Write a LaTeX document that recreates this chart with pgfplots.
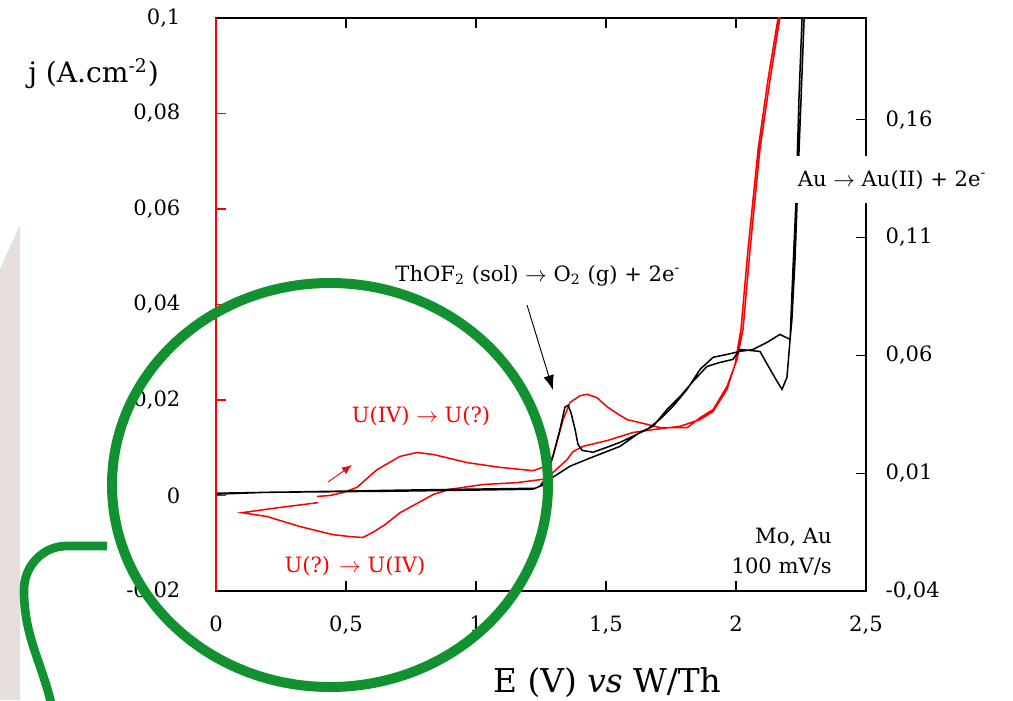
\documentclass[border=0pt]{standalone}
\usepackage{fontspec}
\setmainfont{DejaVu Serif}
\usepackage{pgfplots}
\pgfplotsset{compat=1.18}
\usetikzlibrary{arrows.meta}
\definecolor{cvgreen}{RGB}{18,145,48}
\definecolor{pinkbg}{RGB}{230,221,221}
\begin{document}
\begin{tikzpicture}[font=\fontsize{9}{11}\selectfont]
\useasboundingbox (0,0) rectangle (15.195,10.5);
\fill[pinkbg] (0,0) -- (0,6.465) -- (0.3,7.125) -- (0.3,0) -- cycle;
\begin{axis}[name=ax1, at={(3.24cm,1.635cm)}, anchor=south west,
  width=9.75cm, height=8.595cm, scale only axis,
  xmin=0, xmax=2.5, ymin=-0.02, ymax=0.1,
  xtick={0,0.5,1,1.5,2,2.5}, xticklabels={0,{0,5},1,{1,5},2,{2,5}},
  ytick={-0.02,0,0.02,0.04,0.06,0.08,0.1},
  yticklabels={{-0,02},0,{0,02},{0,04},{0,06},{0,08},{0,1}},
  ytick pos=left, xticklabel pos=lower,
  tick align=inside, major tick length=0.15cm,
  ytick style={red, line width=0.6pt},
  xtick style={black, line width=0.6pt},
  axis line style={line width=0.6pt},
  yticklabel style={xshift=-0.41cm},
  xticklabel style={yshift=-0.25cm},
  clip=true]
\addplot[red, line width=0.65pt] coordinates {
(0.388,-0.0002) (0.438,0) (0.488,0.0006) (0.542,0.0017) (0.619,0.0054) (0.708,0.0082)
(0.773,0.0090) (0.835,0.0086) (0.965,0.0069) (1.092,0.0059) (1.219,0.0052) (1.258,0.0059)
(1.296,0.0082) (1.335,0.0159) (1.362,0.0195) (1.400,0.0209) (1.427,0.0212) (1.465,0.0205)
(1.504,0.0186) (1.542,0.0172) (1.581,0.0159) (1.658,0.0149) (1.708,0.0142) (1.812,0.0142)
(1.862,0.0163) (1.912,0.0180) (1.965,0.0228) (2.004,0.0285) (2.027,0.0348) (2.054,0.0515)
(2.092,0.0725) (2.131,0.0871) (2.169,0.1001) (2.188,0.108)
(2.181,0.108) (2.162,0.1001) (2.123,0.0871) (2.085,0.0725) (2.046,0.0515) (2.019,0.0348)
(1.996,0.0274) (1.965,0.0222) (1.912,0.0176) (1.862,0.0159) (1.785,0.0145) (1.681,0.0138)
(1.604,0.0132) (1.504,0.0115) (1.412,0.0103) (1.373,0.0092) (1.350,0.0075) (1.296,0.0048)
(1.258,0.0034) (1.158,0.0027) (1.027,0.0023) (0.900,0.0013) (0.835,0.0002) (0.765,-0.0019)
(0.708,-0.0036) (0.650,-0.0061) (0.604,-0.0077) (0.565,-0.0088) (0.515,-0.0086) (0.450,-0.0082)
(0.323,-0.0065) (0.196,-0.0044) (0.100,-0.0036) (0.246,-0.0025) (0.392,-0.0015)
};
\end{axis}
\begin{axis}[name=ax2, at={(3.24cm,1.635cm)}, anchor=south west,
  width=9.75cm, height=8.595cm, scale only axis,
  xmin=0, xmax=2.5, ymin=-0.04, ymax=0.2032,
  hide x axis, axis y line*=right,
  ytick={-0.04,0.01,0.06,0.11,0.16},
  yticklabels={{-0,04},{0,01},{0,06},{0,11},{0,16}},
  tick align=inside, major tick length=0.15cm,
  ytick style={black, line width=0.6pt},
  axis line style={line width=0.6pt},
  yticklabel style={xshift=0.17cm},
  clip=true]
\addplot[black, line width=0.65pt] coordinates {
(0,0.0011) (0.196,0.0019) (0.708,0.0024) (1.219,0.0032) (1.246,0.0045) (1.273,0.0087)
(1.296,0.0172) (1.323,0.0286) (1.342,0.0380) (1.354,0.0388) (1.365,0.0358) (1.381,0.0286)
(1.392,0.0223) (1.408,0.0197) (1.450,0.0189) (1.504,0.0210) (1.554,0.0231) (1.604,0.0257)
(1.658,0.0286) (1.708,0.0329) (1.758,0.0384) (1.812,0.0456) (1.862,0.0541) (1.912,0.0592)
(1.965,0.0604) (2.015,0.0617) (2.065,0.0625) (2.119,0.0655) (2.169,0.0689) (2.208,0.0668)
(2.215,0.0753) (2.227,0.1007) (2.238,0.1346) (2.250,0.1685) (2.262,0.2032) (2.269,0.2193)
(2.258,0.2193) (2.254,0.2032) (2.242,0.1685) (2.231,0.1261) (2.219,0.0964) (2.208,0.0668)
(2.196,0.0507) (2.177,0.0456) (2.158,0.0490) (2.131,0.0541) (2.092,0.0617) (2.015,0.0625)
(1.988,0.0583) (1.938,0.0570) (1.888,0.0553) (1.835,0.0490) (1.785,0.0426) (1.735,0.0371)
(1.681,0.0299) (1.631,0.0274) (1.554,0.0214) (1.477,0.0181) (1.427,0.0159) (1.362,0.0130)
(1.296,0.0083) (1.265,0.0053) (1.227,0.0036) (0.708,0.0028) (0,0.0015)
};
\end{axis}
\draw[red, line width=0.6pt] (ax1.south west) -- (ax1.north west);
\node[anchor=base west, font=\fontsize{12}{14}\selectfont] at (0.3,9.255) {j (A.cm\textsuperscript{-2})};
\node[anchor=base, font=\fontsize{14}{17}\selectfont] at (9.105,0.12) {E (V) \textit{vs} W/Th};
\node[anchor=base] at (8.07,6.285) {ThOF\textsubscript{2} (sol) $\rightarrow$ O\textsubscript{2} (g) + 2e\textsuperscript{-}};
\draw[line width=0.4pt, -{Latex[length=0.22cm,width=0.16cm]}] (7.905,5.925) -- (8.295,4.65);
\node[anchor=base, red] at (6.315,4.17) {U(IV) $\rightarrow$ U(?)};
\node[anchor=base, red] at (5.325,1.92) {U(?) $\rightarrow$ U(IV)};
\draw[red, line width=0.4pt, -{Latex[length=0.15cm,width=0.12cm]}] (4.92,3.27) -- (5.28,3.525);
\node[anchor=base east] at (12.6,2.355) {Mo, Au};
\node[anchor=base east] at (12.6,1.905) {100 mV/s};
\node[fill=white, inner xsep=1pt, inner ysep=6pt, anchor=base west] at (11.925,7.71) {Au $\rightarrow$ Au(II) + 2e\textsuperscript{-}};
\draw[cvgreen, line width=0.15cm] (4.95,3.225) ellipse [x radius=3.27, y radius=3.03];
\draw[cvgreen, line width=0.13cm] (1.605,2.31) -- (1.0,2.31) to[out=180,in=90] (0.36,1.65) to[out=-90,in=103] (0.78,-0.1);
\end{tikzpicture}
\end{document}
